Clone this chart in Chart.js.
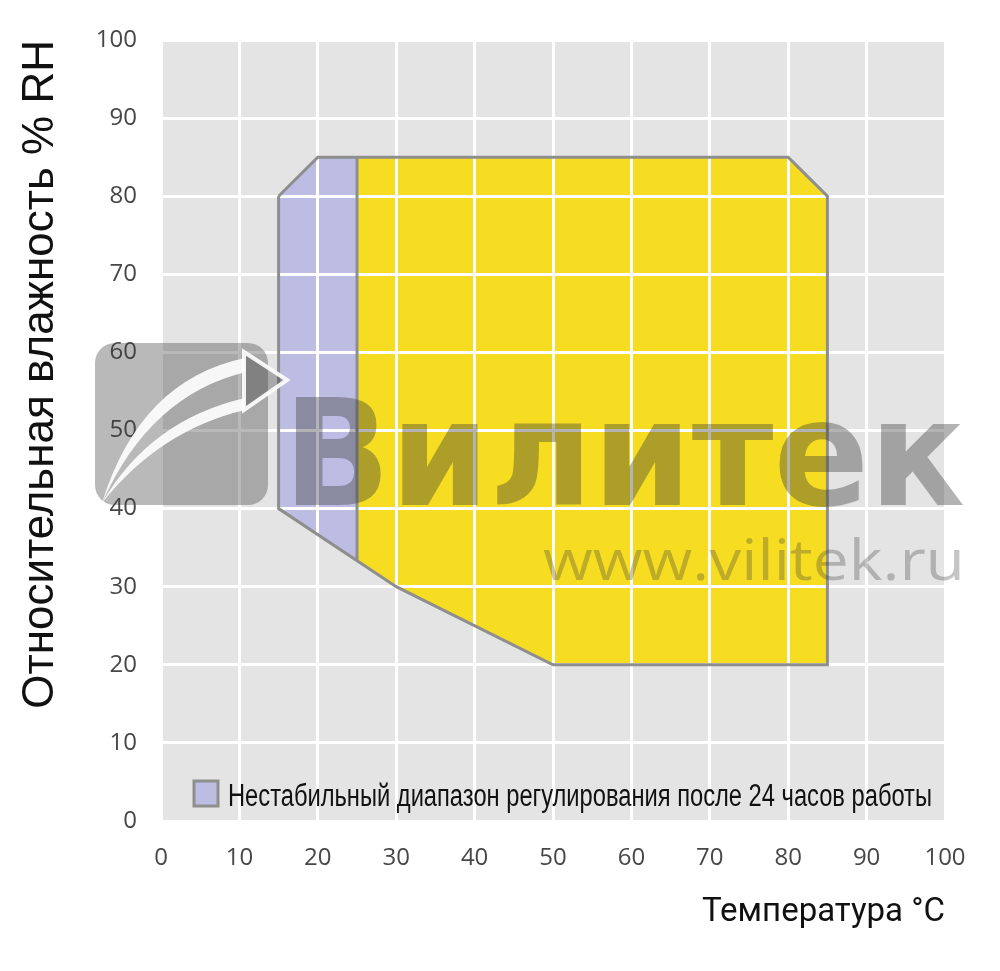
<!DOCTYPE html>
<html>
<head>
<meta charset="utf-8">
<script src="https://cdn.jsdelivr.net/npm/chart.js@4"></script>
<style>
    body { margin: 0; background: #fff; }
    #wrap { width: 1000px; height: 971px; }
</style>
</head>
<body>
<div id="wrap"><canvas id="chart" width="1000" height="971"></canvas></div>
<script>
// Axis ticks
const xTicks = [0, 10, 20, 30, 40, 50, 60, 70, 80, 90, 100];
const yTicks = [0, 10, 20, 30, 40, 50, 60, 70, 80, 90, 100];

// Working range (yellow) - temperature / humidity corners
const stableTemp = [25, 80, 85, 85, 50, 30, 25, 25];
const stableHum = [85, 85, 80, 20, 20, 30, 33.3, 85];

// Unstable range after 24 h (purple)
const unstableTemp = [15, 20, 25, 25, 15, 15];
const unstableHum = [80, 85, 85, 33.3, 40, 80];

// Outer contour
const outlineTemp = [15, 20, 80, 85, 85, 50, 30, 15, 15];
const outlineHum = [80, 85, 85, 80, 20, 20, 30, 40, 80];

// Divider between the two ranges
const dividerTemp = [25, 25];
const dividerHum = [85, 33.3];

const legendLabel = 'Нестабильный диапазон регулирования после 24 часов работы';

const toPoints = (xs, ys) => xs.map((x, i) => ({ x: x, y: ys[i] }));

// Grey plot background
const backgroundPlugin = {
    id: 'plotBackground',
    beforeDraw(chart) {
        const { ctx, chartArea: a } = chart;
        ctx.save();
        ctx.fillStyle = '#e4e4e4';
        ctx.fillRect(a.left, a.top, a.right - a.left, a.bottom - a.top);
        ctx.restore();
    }
};

// White grid must run over the coloured areas but under the contour
const gridOverFillPlugin = {
    id: 'gridOverFill',
    afterDatasetDraw(chart, args) {
        if (args.index !== 1) return;
        chart.scales.x.drawGrid(chart.chartArea);
        chart.scales.y.drawGrid(chart.chartArea);
    }
};

// Legend box inside the plot + watermark
const overlayPlugin = {
    id: 'overlay',
    afterDraw(chart) {
        const ctx = chart.ctx;
        const ds = chart.data.datasets[1];
        ctx.save();

        // legend
        ctx.fillStyle = ds.backgroundColor;
        ctx.fillRect(194, 781, 24, 25);
        ctx.strokeStyle = '#8e8e8e';
        ctx.lineWidth = 3;
        ctx.strokeRect(194, 781, 24, 25);

        ctx.font = '31px "Liberation Sans Narrow", "Liberation Sans", Arial, sans-serif';
        ctx.fillStyle = '#111';
        ctx.textBaseline = 'alphabetic';
        let w = ctx.measureText(legendLabel).width;
        ctx.save();
        ctx.translate(228, 806);
        ctx.scale(704 / w, 1);
        ctx.fillText(legendLabel, 0, 0);
        ctx.restore();

        // watermark logo
        ctx.fillStyle = 'rgba(60,60,60,0.36)';
        ctx.beginPath();
        ctx.roundRect(95, 343, 173, 162, 20);
        ctx.fill();

        ctx.fillStyle = 'rgba(255,255,255,0.9)';
        ctx.beginPath();
        ctx.moveTo(102, 503);
        ctx.quadraticCurveTo(140, 380, 245, 358);
        ctx.lineTo(246, 372);
        ctx.quadraticCurveTo(150, 395, 102, 503);
        ctx.fill();
        ctx.beginPath();
        ctx.moveTo(102, 503);
        ctx.quadraticCurveTo(150, 420, 245, 398);
        ctx.lineTo(245, 410);
        ctx.quadraticCurveTo(160, 430, 102, 503);
        ctx.fill();

        ctx.fillStyle = 'rgba(60,60,60,0.36)';
        ctx.strokeStyle = 'rgba(255,255,255,0.9)';
        ctx.lineWidth = 4;
        ctx.beginPath();
        ctx.moveTo(244, 352);
        ctx.lineTo(287, 380);
        ctx.lineTo(244, 410);
        ctx.closePath();
        ctx.fill();
        ctx.stroke();

        // watermark text
        ctx.fillStyle = 'rgba(55,55,55,0.38)';
        ctx.font = 'bold 148px "DejaVu Sans", sans-serif';
        w = ctx.measureText('Вилитек').width;
        ctx.save();
        ctx.translate(283, 505);
        ctx.scale(682 / w, 1);
        ctx.fillText('Вилитек', 0, 0);
        ctx.restore();

        ctx.fillStyle = 'rgba(60,60,60,0.3)';
        ctx.font = '56px "Open Sans", sans-serif';
        w = ctx.measureText('www.vilitek.ru').width;
        ctx.save();
        ctx.translate(543, 580);
        ctx.scale(422 / w, 1);
        ctx.fillText('www.vilitek.ru', 0, 0);
        ctx.restore();

        ctx.restore();
    }
};

const tickFont = { family: '"Open Sans", sans-serif', size: 24 };

new Chart(document.getElementById('chart'), {
    type: 'scatter',
    data: {
        datasets: [
            {
                label: 'outline',
                data: toPoints(outlineTemp, outlineHum),
                showLine: true,
                borderColor: '#8e8e8e',
                borderWidth: 3,
                pointRadius: 0,
                fill: false,
                order: 0
            },
            {
                label: legendLabel,
                data: toPoints(unstableTemp, unstableHum),
                showLine: true,
                borderWidth: 0,
                borderColor: 'rgba(0,0,0,0)',
                backgroundColor: '#bdbde3',
                pointRadius: 0,
                fill: 'shape',
                order: 1
            },
            {
                label: 'stable',
                data: toPoints(stableTemp, stableHum),
                showLine: true,
                borderWidth: 0,
                borderColor: 'rgba(0,0,0,0)',
                backgroundColor: '#f6dd22',
                pointRadius: 0,
                fill: 'shape',
                order: 1
            },
            {
                label: 'divider',
                data: toPoints(dividerTemp, dividerHum),
                showLine: true,
                borderColor: '#8e8e8e',
                borderWidth: 3,
                pointRadius: 0,
                fill: false,
                order: 0
            }
        ]
    },
    options: {
        responsive: false,
        animation: false,
        layout: { padding: { left: 0, right: 55, top: 40, bottom: 0 } },
        plugins: {
            legend: { display: false },
            tooltip: { enabled: false }
        },
        scales: {
            x: {
                type: 'linear',
                min: 0,
                max: 100,
                afterBuildTicks: (scale) => { scale.ticks = xTicks.map(v => ({ value: v })); },
                afterFit: (scale) => { scale.height = 150; },
                grid: { color: '#ffffff', lineWidth: 3, drawTicks: false },
                border: { display: false },
                ticks: { color: '#474747', font: tickFont, padding: 23, maxRotation: 0 },
                title: {
                    display: true,
                    text: 'Температура °C',
                    align: 'end',
                    color: '#111',
                    font: { family: 'Roboto, sans-serif', size: 33 },
                    padding: { top: 0, bottom: 38 }
                }
            },
            y: {
                type: 'linear',
                min: 0,
                max: 100,
                afterBuildTicks: (scale) => { scale.ticks = yTicks.map(v => ({ value: v })); },
                afterFit: (scale) => { scale.width = 161; },
                grid: { color: '#ffffff', lineWidth: 3, drawTicks: false },
                border: { display: false },
                ticks: { color: '#474747', font: tickFont, padding: 24 },
                title: {
                    display: true,
                    text: 'Относительная влажность % RH',
                    align: 'end',
                    color: '#111',
                    font: { family: '"Liberation Sans", Arial, sans-serif', size: 44 },
                    padding: { top: 14, bottom: 0 }
                }
            }
        }
    },
    plugins: [backgroundPlugin, gridOverFillPlugin, overlayPlugin]
});
</script>
</body>
</html>
